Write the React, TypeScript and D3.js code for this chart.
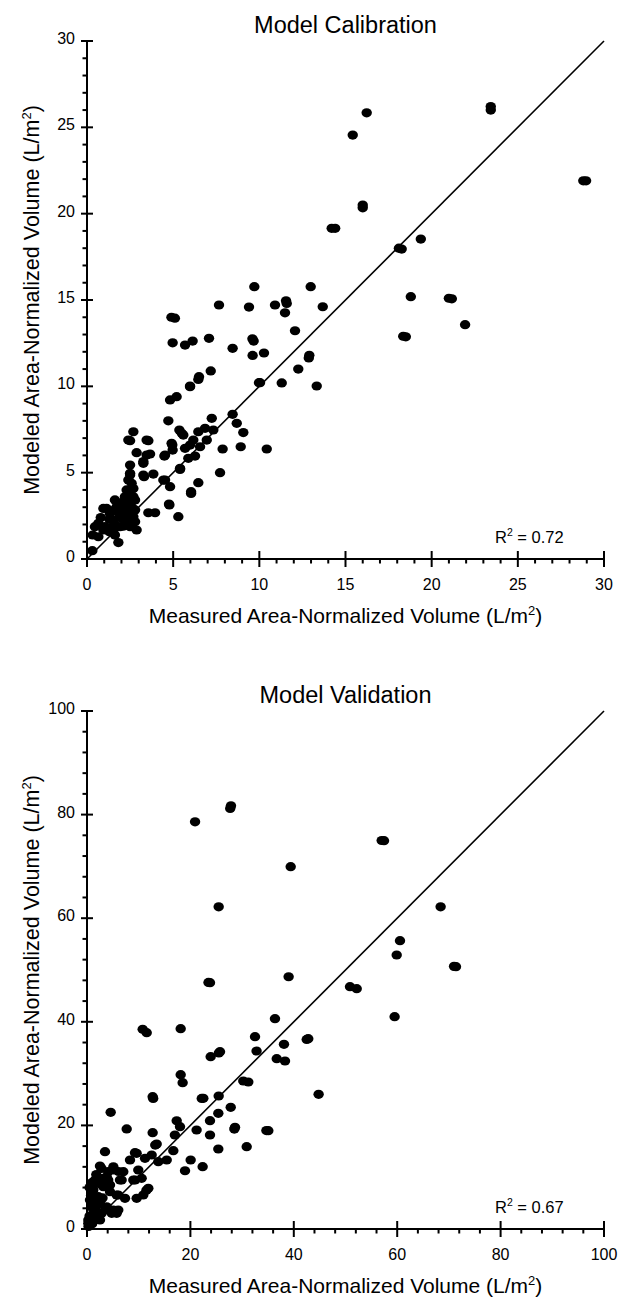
import React from "react";
import * as d3 from "d3";

// ---- Calibration data (measured, modeled) ----
const calX = [
  0.31, 0.33, 0.66, 1.14, 1.62, 1.82, 2.88, 2.69, 2.5, 3.56, 2.88, 3.66, 2.5, 3.27, 3.31, 3.85, 3.56, 3.95, 4.78, 5.3,
  4.49, 4.43, 4.82, 4.72, 4.82, 5.2, 5.98, 6.46, 4.97, 4.91, 5.36, 5.59, 5.4, 5.98, 5.88, 6.27, 6.17, 6.46, 6.85, 6.56,
  6.95, 7.24, 7.33, 6.04, 6.46, 7.72, 7.87, 8.45, 8.69, 9.07, 8.92, 10.43, 10.04, 11.3,
  0.46, 1.04, 0.95, 1.33, 1.53, 1.53, 1.92, 1.72, 2.11, 2.3, 2.5, 2.4, 2.69, 2.59, 2.4, 2.69, 2.5, 2.79, 2.79, 2.5,
  2.69, 2.01, 1.62, 1.3, 0.66, 0.95, 2.2, 2.5, 2.59, 2.79, 2.4, 3.46, 3.46, 3.27, 3.27, 4.53, 4.76, 4.53, 4.95, 5.4,
  5.69, 6.04, 5.5, 1.3, 1.6, 1.9, 2.1, 2.3, 1.5, 2.0, 2.4, 1.2, 0.8, 2.2, 1.8, 2.6, 2.3,
  4.9, 5.1, 4.97, 5.69, 6.13, 7.08, 7.66, 8.45, 9.4, 9.71, 9.67, 9.6, 9.61, 10.27, 10.91, 11.59, 11.55, 11.49, 12.07, 12.98,
  13.68, 12.87, 12.9, 12.26, 13.33, 9.98, 7.18, 6.5, 5.98, 14.2, 14.4, 16.23, 15.42, 23.43, 23.43, 28.96, 28.8, 16.0, 16.0, 18.26,
  18.1, 19.37, 18.79, 21.17, 21.0, 21.94, 18.5, 18.35,
];
const calY = [
  0.48, 1.39, 2.07, 2.93, 3.42, 0.95, 1.68, 7.37, 6.85, 6.85, 6.16, 6.08, 5.44, 5.64, 4.77, 4.92, 2.68, 2.68, 3.13, 2.45,
  5.96, 4.57, 4.19, 8.0, 9.21, 9.4, 9.98, 10.4, 6.31, 6.7, 7.47, 7.18, 5.19, 6.6, 5.83, 5.96, 6.89, 7.37, 7.57, 6.5,
  6.89, 8.15, 7.47, 3.8, 4.42, 5.0, 6.37, 8.38, 7.86, 7.32, 6.5, 6.37, 10.21, 10.2,
  1.87, 1.87, 2.93, 2.64, 2.26, 1.68, 1.87, 3.03, 3.32, 2.74, 3.22, 3.8, 3.61, 4.38, 4.57, 4.09, 4.86, 2.84, 2.16, 1.87,
  2.45, 2.36, 1.39, 1.58, 1.29, 1.68, 3.03, 4.96, 3.61, 3.42, 6.89, 6.89, 6.02, 5.54, 4.86, 4.57, 3.18, 6.02, 6.6, 5.25,
  6.41, 3.9, 7.28, 2.3, 2.0, 2.5, 1.9, 2.2, 2.8, 2.8, 2.6, 1.8, 2.4, 3.6, 3.1, 3.0, 4.0,
  14.0, 13.95, 12.52, 12.39, 12.62, 12.78, 14.71, 12.2, 14.59, 15.77, 12.62, 12.75, 11.79, 11.93, 14.71, 14.8, 14.95, 14.26, 13.22, 15.77,
  14.61, 11.64, 11.8, 11.0, 10.02, 10.21, 10.89, 10.56, 10.02, 19.15, 19.15, 25.84, 24.55, 26.0, 26.2, 21.9, 21.9, 20.34, 20.5, 17.95,
  18.0, 18.53, 15.19, 15.07, 15.1, 13.57, 12.87, 12.9,
];

// ---- Validation data (measured, modeled) ----
const valX = [
  27.85, 27.7, 20.9, 57.45, 57.0, 39.4, 25.47, 68.4, 60.54, 59.9, 71.37, 71.0, 39.0, 23.79, 23.5, 50.87, 52.17, 59.5, 36.36, 10.77,
  11.55, 18.12, 32.5, 38.1, 42.8, 42.5, 32.8, 25.73, 25.5, 23.92, 36.7, 38.3, 18.12, 18.5, 30.23, 31.2, 12.7, 12.8, 22.5, 22.2,
  25.47, 44.8, 35.07, 34.7,
  4.58, 7.68, 12.7, 17.35, 17.99, 17.0, 13.48, 16.7, 20.05, 18.96, 22.37, 21.2, 25.4, 23.79, 23.79, 27.8, 28.63, 28.5, 25.4, 30.89,
  3.48, 2.51, 9.28, 8.32, 11.22, 13.79, 15.42, 12.51, 5.09, 7.02, 9.92, 10.57, 3.81, 6.38, 8.96, 11.86, 10.89, 9.61, 7.35, 5.74,
  1.22, 2.19, 5.09, 5.74, 3.81, 0.9, 2.51, 0.58, 0.26, 1.22, 3.15, 4.45, 1.55, 0.58,
  2.8, 9.6, 13.2, 6.1, 4.1, 6.7, 9.3, 11.5, 4.78, 6.05, 3.48, 2.19, 4.45, 6.05, 3.15, 4.1, 5.1, 0.26, 0.9,
  0.3, 0.5, 1.0, 1.2, 1.5, 0.8, 1.8, 2.0, 2.5, 3.0, 2.8, 1.0, 0.5, 1.8, 2.2,
];
const valY = [
  81.7, 81.2, 78.6, 74.96, 75.0, 69.94, 62.2, 62.2, 55.66, 52.9, 50.64, 50.7, 48.7, 47.55, 47.6, 46.78, 46.39, 40.98, 40.6, 38.55,
  37.9, 38.67, 37.12, 35.65, 36.74, 36.6, 34.36, 34.23, 34.0, 33.26, 32.88, 32.43, 29.79, 28.24, 28.57, 28.38, 25.54, 25.2, 25.23, 25.2,
  25.68, 26.0, 18.98, 19.0,
  22.53, 19.31, 18.59, 20.9, 19.75, 18.15, 16.41, 15.12, 13.32, 11.25, 12.03, 19.11, 22.33, 20.91, 18.15, 23.49, 19.63, 19.3, 15.44, 15.89,
  14.92, 12.16, 14.73, 13.32, 13.65, 12.99, 13.32, 14.29, 11.39, 11.06, 11.39, 9.79, 10.1, 9.46, 9.46, 7.86, 6.56, 5.93, 5.93, 6.56,
  7.53, 6.24, 3.67, 3.03, 4.3, 4.3, 1.74, 1.74, 1.1, 2.7, 8.17, 8.49, 9.46, 5.6,
  11.7, 14.6, 16.2, 11.1, 9.46, 9.46, 9.46, 7.5, 3.03, 3.67, 3.67, 2.07, 7.2, 6.56, 9.79, 11.06, 12.0, 1.74, 4.96,
  0.5, 2.5, 1.0, 3.8, 5.5, 6.5, 4.5, 3.2, 5.0, 6.0, 3.0, 9.0, 8.0, 10.5, 8.8,
];

// ---- Tick labels / texts ----
const calTicks = [0, 5, 10, 15, 20, 25, 30];
const valTicks = [0, 20, 40, 60, 80, 100];
const calTitle = "Model Calibration";
const valTitle = "Model Validation";
const calR2 = "0.72";
const valR2 = "0.67";

const FONT = "'Liberation Sans', Arial, Helvetica, sans-serif";

type PanelProps = {
  title: string;
  xs: number[];
  ys: number[];
  ticks: number[];
  minorStep: number;
  max: number;
  r2: string;
  top: number;
};

function Panel({ title, xs, ys, ticks, minorStep, max, r2, top }: PanelProps) {
  const left = 87;
  const right = 604;
  const bottom = top + 518;
  const x = d3.scaleLinear().domain([0, max]).range([left, right]);
  const y = d3.scaleLinear().domain([0, max]).range([bottom, top]);
  const minors = d3.range(0, max + 1e-9, minorStep).filter((v) => !ticks.includes(v));
  const line = d3.line<number>()((
    [[0, 0], [max, max]] as [number, number][]
  ).map(([a, b]) => [x(a), y(b)]) as any);
  const cy = (top + bottom) / 2;
  return (
    <g fontFamily={FONT} fill="#000">
      <text x={(left + right) / 2} y={top - 8} textAnchor="middle" fontSize={23.5}>
        {title}
      </text>
      {/* diagonal */}
      <path d={line || ""} stroke="#000" strokeWidth={1.6} fill="none" />
      {/* points */}
      {xs.map((v, i) => (
        <ellipse key={i} cx={x(v)} cy={y(ys[i])} rx={5.2} ry={4.6} fill="#000" />
      ))}
      {/* axes */}
      <line x1={left} x2={right} y1={bottom} y2={bottom} stroke="#000" strokeWidth={2} />
      <line x1={left} x2={left} y1={top} y2={bottom} stroke="#000" strokeWidth={2} />
      {ticks.map((t) => (
        <g key={"t" + t}>
          <line x1={x(t)} x2={x(t)} y1={bottom - 8} y2={bottom + 8} stroke="#000" strokeWidth={2} />
          <line x1={left - 6} x2={left + 6} y1={y(t)} y2={y(t)} stroke="#000" strokeWidth={2} />
          <text x={x(t)} y={bottom + 31} textAnchor="middle" fontSize={16}>
            {t}
          </text>
          <text x={left - 12} y={y(t) + 3} textAnchor="end" fontSize={16}>
            {t}
          </text>
        </g>
      ))}
      {minors.map((t) => (
        <g key={"m" + t}>
          <line x1={x(t)} x2={x(t)} y1={bottom} y2={bottom + 4.5} stroke="#000" strokeWidth={2} />
          <line x1={left - 4.5} x2={left} y1={y(t)} y2={y(t)} stroke="#000" strokeWidth={2} />
        </g>
      ))}
      <text x={x(max) - 109} y={bottom - 16} textAnchor="start" fontSize={16.5}>
        R<tspan fontSize={10.5} dy={-7}>2</tspan>
        <tspan dy={7}>{" = " + r2}</tspan>
      </text>
      <text x={(left + right) / 2} y={bottom + 64} textAnchor="middle" fontSize={21}>
        Measured Area-Normalized Volume (L/m<tspan fontSize={13} dy={-8}>2</tspan>
        <tspan dy={8}>)</tspan>
      </text>
      <text
        transform={`translate(39,${cy}) rotate(-90)`}
        textAnchor="middle"
        fontSize={21.5}
      >
        Modeled Area-Normalized Volume (L/m<tspan fontSize={13} dy={-8}>2</tspan>
        <tspan dy={8}>)</tspan>
      </text>
    </g>
  );
}

export default function App() {
  return (
    <svg width={630} height={1302} style={{ display: "block", margin: "-8px 0 0 -8px" }}>
      <rect width={630} height={1302} fill="#fff" />
      <Panel title={calTitle} xs={calX} ys={calY} ticks={calTicks} minorStep={1} max={30} r2={calR2} top={41} />
      <Panel title={valTitle} xs={valX} ys={valY} ticks={valTicks} minorStep={4} max={100} r2={valR2} top={711} />
    </svg>
  );
}
